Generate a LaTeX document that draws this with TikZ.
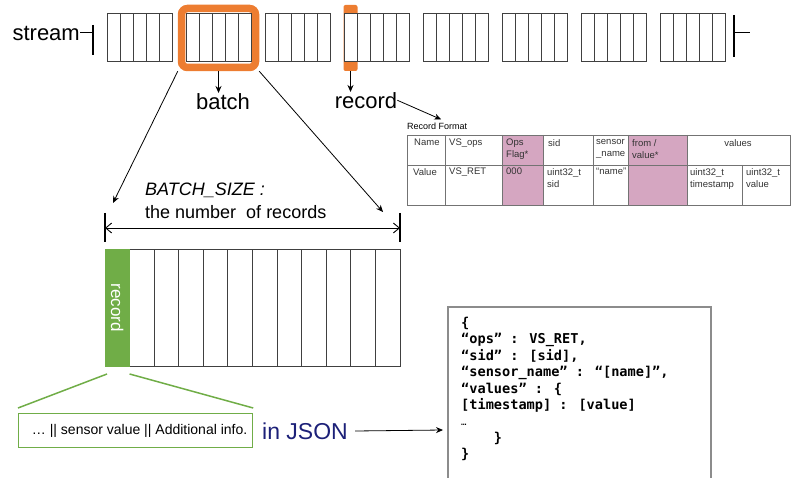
\documentclass[tikz,border=0pt]{standalone}
\usepackage{fontspec}
\setmainfont{Liberation Sans}
\newfontfamily\jsonfont{DejaVu Sans Mono}
\usetikzlibrary{arrows.meta}

\definecolor{batchorange}{RGB}{237,125,49}
\definecolor{recgreen}{RGB}{112,173,71}
\definecolor{flagpink}{RGB}{213,166,193}
\definecolor{jsonblue}{RGB}{28,32,120}

\tikzset{
  cell/.style={draw=black!75, fill=white, line width=0.9pt},
  lbl/.style={font=\fontsize{22}{26}\selectfont, inner sep=0pt},
  pointer/.style={-{Stealth[length=7pt,width=6pt]}, line width=0.8pt},
  tblline/.style={draw=black!55, line width=0.7pt},
  tbltext/.style={font=\fontsize{9.5}{12}\selectfont, anchor=north west, align=left, inner sep=0pt, text=black!80},
}

\begin{document}
\begin{tikzpicture}[x=1pt,y=-1pt]
\useasboundingbox (0,0) rectangle (794,478);

% stream of batches
\node[draw=batchorange, line width=7.5pt, rounded corners=6pt, minimum width=74pt, minimum height=59pt] (batchbox) at (218.5,38) {};
\node[fill=batchorange, rounded corners=2pt, minimum width=14pt, minimum height=66pt, inner sep=0pt] (rechl) at (350.5,38) {};
\foreach \b in {0,...,7}{
  \foreach \c in {0,...,4}
    \draw[cell] ({107+79*\b+13*\c},13) rectangle ++(13,48);
}

\node[lbl, anchor=east] (stream) at (80,33) {stream};
\coordinate (sbegin) at (93,33);
\coordinate (send) at (734,33);
\draw[line width=1pt] (stream.east) -- (sbegin);
\draw[line width=1.2pt] (93,25) -- (93,55);
\draw[line width=1.2pt] (734,15) -- (734,57);
\draw[line width=1pt] (send) -- (750,33);

\node[lbl, anchor=north] (batch) at (223,93) {batch};
\node[lbl, anchor=north] (record) at (366,92) {record};
\draw[pointer] (batchbox.south) -- (batchbox.south |- batch.north);
\draw[pointer] (rechl.south) -- (rechl.south |- record.north);

% record format table
\node[font=\fontsize{9}{11}\selectfont, anchor=west, inner sep=0pt] (fmtlbl) at (407,126) {Record Format};
\draw[pointer] (record.east) -- ([xshift=4pt,yshift=3pt]fmtlbl.north);

\fill[flagpink] (502,135) rectangle (543,205);
\fill[flagpink] (628,135) rectangle (687,205);
\draw[tblline] (407,135) rectangle (790,205);
\draw[tblline] (407,165) -- (790,165);
\foreach \x in {445,502,543,593,628,687}
  \draw[tblline] (\x,135) -- (\x,205);
\draw[tblline] (742,165) -- (742,205);

\node[tbltext] (hname) at (414,139) {Name};
\node[tbltext] (hops) at (449,139) {VS\_ops};
\node[tbltext] (hflag) at (506,139) {Ops\\Flag*};
\node[tbltext] (hsid) at (548,139) {sid};
\node[tbltext] (hsensor) at (596,139) {sensor\\\_name};
\node[tbltext] (hfrom) at (632,139) {from /\\value*};
\node[tbltext, anchor=north] (hvalues) at (738,139) {values};
\node[tbltext] (vname) at (413,168) {Value};
\node[tbltext] (vops) at (449,168) {VS\_RET};
\node[tbltext] (vflag) at (506,168) {000};
\node[tbltext] (vsid) at (547,168) {uint32\_t\\sid};
\node[tbltext] (vsensor) at (596,168) {“name”};
\node[tbltext] (vtime) at (690,168) {uint32\_t\\timestamp};
\node[tbltext] (vvalue) at (746,168) {uint32\_t\\value};

% one batch in detail
\coordinate (spanL) at (113,203);
\coordinate (spanR) at (383,212);
\draw[pointer] (batchbox.south west) -- (spanL);
\draw[pointer] (batchbox.south east) -- (spanR);

\node[font=\fontsize{18}{22}\selectfont\itshape, anchor=west, inner sep=0pt] (bsize) at (145,190) {BATCH\_SIZE :};
\node[font=\fontsize{18}{22}\selectfont, anchor=west, inner sep=0pt] (bnum) at (145,212) {the number~ of records};

\coordinate (dimL) at (105,228);
\coordinate (dimR) at (400,228);
\draw[line width=0.9pt, {Straight Barb[length=6pt,width=10pt]}-{Straight Barb[length=6pt,width=10pt]}] (dimL) -- (dimR);
\draw[line width=1.2pt] (105,213) -- (105,242);
\draw[line width=1.2pt] (400,213) -- (400,242);

\foreach \c in {0,...,11}
  \draw[cell] ({105+24.583*\c},249) rectangle ++(24.583,117);
\node[fill=recgreen, draw=recgreen, line width=0.9pt, minimum width=24.6pt, minimum height=117pt, inner sep=0pt, outer sep=0pt, anchor=north west] (rec) at (105,249) {};
\node[rotate=-90, text=white, font=\fontsize{17}{20}\selectfont, inner sep=0pt] (reclbl) at (rec.center) {record};

\node[draw=recgreen, line width=1.2pt, minimum width=234pt, minimum height=34pt, inner sep=0pt, anchor=north west, font=\fontsize{14}{16}\selectfont] (info) at (18,413) {\hspace*{8pt}… || sensor value || Additional info.};
\draw[recgreen, line width=1.5pt] ([shift={(2,8)}]rec.south west) -- ([yshift=5pt]info.north west);
\draw[recgreen, line width=1.5pt] ([shift={(0,8)}]rec.south east) -- ([yshift=5pt]info.north east);

% JSON
\node[font=\fontsize{23}{26}\selectfont, text=jsonblue, anchor=west, inner sep=0pt] (injson) at (262,431) {in JSON};
\coordinate (jsonin) at (443,430);
\draw[pointer] ([xshift=7pt]injson.east) -- (jsonin);

\draw[draw=black!45, line width=1.3pt] (448,480) |- (711,307) -- (711,480);
\node[font=\jsonfont\bfseries\fontsize{13.6}{16.4}\selectfont, anchor=north west, align=left, inner sep=0pt] (json) at (461,317) {%
\{\\
“ops” : VS\_RET,\\
“sid” : [sid],\\
“sensor\_name” : “[name]”,\\
“values” : \{\\
{[timestamp] : [value]}\\
{\mdseries\fontsize{9}{16.4}\selectfont …}\\
\phantom{xxxx}\}\\
\}};

\end{tikzpicture}
\end{document}
